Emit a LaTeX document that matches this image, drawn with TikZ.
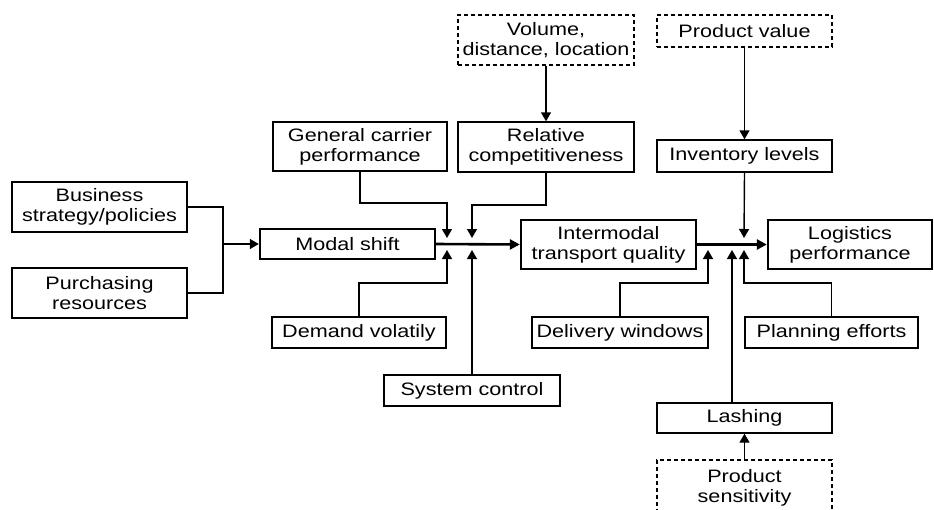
\documentclass[tikz,border=0pt]{standalone}
\usepackage{fontspec}
\setmainfont{Liberation Sans}[FakeStretch=1.2]
\usetikzlibrary{arrows.meta}

\begin{document}
\begin{tikzpicture}[x=1pt,y=-1pt,
  font=\fontsize{18}{20}\selectfont,
  box/.style={draw, line width=1.4pt, align=center, inner sep=0pt, minimum width=175pt},
  boldbox/.style={box, line width=2.4pt},
  dashbox/.style={box, line width=1.2pt, dash pattern=on 4pt off 3pt},
  arr/.style={line width=1.4pt, -{Triangle[length=9pt,width=10pt]}},
  mainarr/.style={line width=2.6pt, -{Triangle[length=10pt,width=10pt]}}]
\useasboundingbox (0,0) rectangle (934,509);
% left inputs
\node[box, minimum height=50pt] (biz) at (99.5,207) {Business\\strategy/policies};
\node[box, minimum height=50pt] (purch) at (99.5,293) {Purchasing\\resources};
% main chain
\node[boldbox, minimum height=30pt] (modal) at (347.5,244) {Modal shift};
\node[boldbox, minimum height=49pt] (inter) at (608.5,244.5) {Intermodal\\transport quality};
\node[boldbox, minimum width=164pt, minimum height=49pt] (log) at (850,244.5) {Logistics\\performance};
% upper factors
\node[box, minimum width=174pt, minimum height=49pt] (gen) at (360,146.5) {General carrier\\performance};
\node[box, minimum width=176pt, minimum height=50pt] (rel) at (546,147) {Relative\\competitiveness};
\node[dashbox, minimum width=176pt, minimum height=50pt] (vol) at (546,40) {Volume,\\distance, location};
\node[dashbox, minimum height=32pt] (pv) at (744.5,31) {Product value};
\node[box, minimum height=32pt] (inv) at (744.5,156) {Inventory levels};
% lower factors
\node[box, minimum width=174pt, minimum height=31pt] (dem) at (359,332.5) {Demand volatily};
\node[box, minimum width=176pt, minimum height=31pt] (sys) at (472,390.5) {System control};
\node[box, minimum width=176pt, minimum height=31pt] (del) at (620,332.5) {Delivery windows};
\node[box, minimum width=173pt, minimum height=31pt] (plan) at (831.5,332.5) {Planning efforts};
\node[box, minimum height=30pt] (lash) at (744.5,418) {Lashing};
\node[dashbox, minimum height=56pt] (sens) at (744.5,488) {Product\\sensitivity};
% junction points
\coordinate (jb) at (223,244);
\coordinate (ga) at (447,203);
\coordinate (gb) at (447,238);
\coordinate (ra) at (472,205);
\coordinate (rb) at (472,238);
\coordinate (da) at (447,283);
\coordinate (db) at (447,250);
\coordinate (sb) at (472,250);
\coordinate (ib) at (744,238);
\coordinate (wa) at (708,283);
\coordinate (wb) at (708,250);
\coordinate (lb) at (732,250);
\coordinate (pa) at (744,283);
\coordinate (pb) at (744,250);
% connectors
\draw[line width=1.4pt] (biz.east) -| (jb) |- (purch.east);
\draw[arr] (jb) -- (modal.west);
\draw[mainarr] (modal.east) -- (inter.west);
\draw[mainarr] (inter.east) -- (log.west);
\draw[arr] (gen.south) |- (ga) -- (gb);
\draw[arr] (rel.south) |- (ra) -- (rb);
\draw[arr] (vol.south) -- (rel.north);
\draw[arr] (dem.north) |- (da) -- (db);
\draw[arr] (sys.north) -- (sb);
\draw[arr] (pv.south) -- (inv.north);
\draw[arr] (inv.south) -- (ib);
\draw[arr] (del.north) |- (wa) -- (wb);
\draw[arr] (lash.north -| lb) -- (lb);
\draw[arr] (plan.north) |- (pa) -- (pb);
\draw[arr] (sens.north) -- (lash.south);
\end{tikzpicture}
\end{document}
